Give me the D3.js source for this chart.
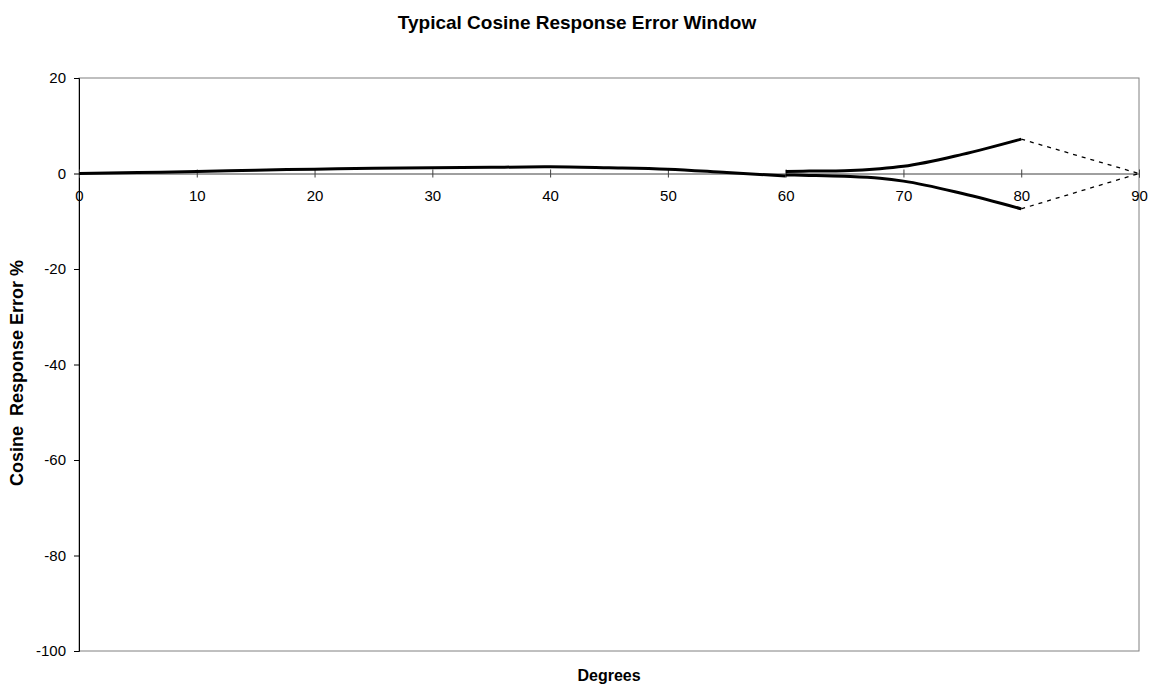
<!DOCTYPE html>
<html>
<head>
<meta charset="utf-8">
<script src="https://cdn.jsdelivr.net/npm/d3@7"></script>
<style>
body { margin: 0; background: #fff; }
text { font-family: "Liberation Sans", Arial, sans-serif; }
</style>
</head>
<body>
<div id="chart"></div>
<script>
var width = 1154;
var height = 688;
var margin = {top: 78, right: 15, bottom: 37, left: 79};

var xTicks = [0, 10, 20, 30, 40, 50, 60, 70, 80, 90];
var yTicks = [20, 0, -20, -40, -60, -80, -100];

// typical response, 0 - 60 degrees
var mainDeg = [0, 5, 10, 15, 20, 25, 30, 35, 40, 45, 50, 55, 60];
var mainErr = [0, 0.2, 0.4, 0.7, 0.9, 1.1, 1.2, 1.3, 1.4, 1.2, 0.9, 0.2, -0.5];

// window limits, 60 - 80 degrees
var upperDeg = [60, 62, 65, 68, 70, 75, 80];
var upperErr = [0.4, 0.5, 0.6, 1.0, 1.5, 4.0, 7.2];
var lowerDeg = [60, 62, 65, 68, 70, 75, 80];
var lowerErr = [-0.3, -0.4, -0.6, -1.0, -1.6, -4.2, -7.4];

// extrapolated to 90 degrees
var dashDeg = [80, 90];
var dashUpperErr = [7.2, 0];
var dashLowerErr = [-7.4, 0];

var svg = d3.select('#chart')
	.append('svg')
	.attr('width', width)
	.attr('height', height);

var x = d3.scaleLinear()
	.domain([0, 90])
	.range([margin.left, width - margin.right]);

var y = d3.scaleLinear()
	.domain([-100, 20])
	.range([height - margin.bottom, margin.top]);

// plain hyphen for negatives, like the original
var plain = function(d){ return String(d); };

// plot frame
svg.append('rect')
	.attr('x', x(0))
	.attr('y', y(20))
	.attr('width', x(90) - x(0))
	.attr('height', y(-100) - y(20))
	.attr('fill', 'none')
	.attr('stroke', '#808080')
	.attr('stroke-width', 1);

// y axis
var yAxis = svg.append('g')
	.attr('transform', 'translate(' + x(0) + ',0)')
	.call(d3.axisLeft(y).tickValues(yTicks).tickFormat(plain).tickSize(5).tickPadding(8));
yAxis.select('.domain').attr('stroke', '#000');
yAxis.selectAll('text').style('font-size', '15px').attr('fill', '#000');

// x axis along zero
var xAxis = svg.append('g')
	.attr('transform', 'translate(0,' + y(0) + ')')
	.call(d3.axisBottom(x).tickValues(xTicks).tickFormat(plain).tickSizeOuter(0).tickSize(4).tickPadding(13));
xAxis.select('.domain').attr('stroke', '#404040');
xAxis.selectAll('.tick line').attr('y1', -4).attr('stroke', '#404040');
xAxis.selectAll('text').style('font-size', '15px').attr('fill', '#000');

function makeLine(degs, errs, curve){
	return d3.line()
		.x(function(d, i){ return x(degs[i]); })
		.y(function(d, i){ return y(errs[i]); })
		.curve(curve)(degs);
}

var solid = [[mainDeg, mainErr], [upperDeg, upperErr], [lowerDeg, lowerErr]];
for(var i = 0; i < solid.length; i++){
	svg.append('path')
		.attr('d', makeLine(solid[i][0], solid[i][1], d3.curveMonotoneX))
		.attr('fill', 'none')
		.attr('stroke', '#000')
		.attr('stroke-width', 3);
}

var dashed = [dashUpperErr, dashLowerErr];
for(var j = 0; j < dashed.length; j++){
	svg.append('path')
		.attr('d', makeLine(dashDeg, dashed[j], d3.curveLinear))
		.attr('fill', 'none')
		.attr('stroke', '#000')
		.attr('stroke-width', 1.3)
		.attr('stroke-dasharray', '4,5');
}

// titles
svg.append('text')
	.attr('x', 577)
	.attr('y', 29)
	.attr('text-anchor', 'middle')
	.style('font-size', '19px')
	.style('font-weight', 'bold')
	.text('Typical Cosine Response Error Window');

svg.append('text')
	.attr('x', (x(0) + x(90)) / 2)
	.attr('y', 681)
	.attr('text-anchor', 'middle')
	.style('font-size', '16px')
	.style('font-weight', 'bold')
	.text('Degrees');

svg.append('text')
	.attr('transform', 'translate(23,373) rotate(-90)')
	.attr('text-anchor', 'middle')
	.style('font-size', '18px')
	.style('font-weight', 'bold')
	.style('white-space', 'pre')
	.text('Cosine  Response Error %');
</script>
</body>
</html>
